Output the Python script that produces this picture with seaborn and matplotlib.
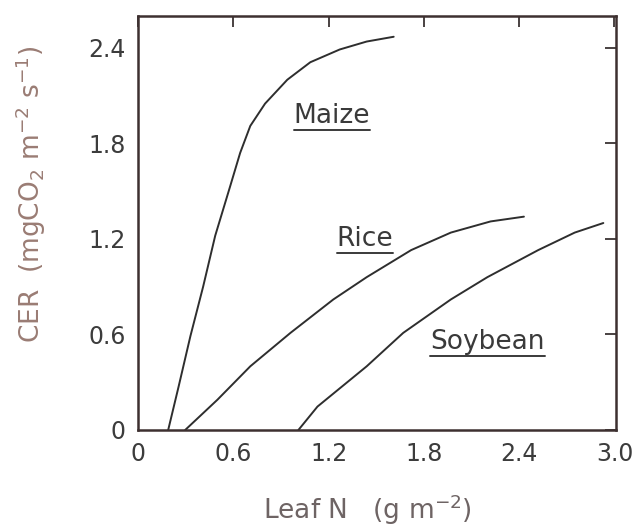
import numpy as np
import pandas as pd
import matplotlib
matplotlib.use("Agg")
import matplotlib.pyplot as plt
import seaborn as sns

# ---- data ----
maize_n = [0.19, 0.255, 0.33, 0.41, 0.486, 0.58, 0.643, 0.707, 0.80, 0.94, 1.085, 1.27, 1.44, 1.61]
maize_cer = [0.00, 0.27, 0.59, 0.90, 1.22, 1.53, 1.74, 1.91, 2.05, 2.20, 2.31, 2.39, 2.44, 2.47]

rice_n = [0.297, 0.50, 0.707, 0.96, 1.23, 1.44, 1.72, 1.97, 2.22, 2.43]
rice_cer = [0.00, 0.19, 0.40, 0.61, 0.82, 0.96, 1.13, 1.24, 1.31, 1.34]

soy_n = [1.01, 1.13, 1.44, 1.67, 1.97, 2.20, 2.52, 2.75, 2.93]
soy_cer = [0.00, 0.147, 0.40, 0.61, 0.82, 0.96, 1.13, 1.24, 1.30]

crops = ["Maize", "Rice", "Soybean"]
label_x = [1.22, 1.43, 2.20]
label_y = [1.97, 1.20, 0.55]

xticks = [0, 0.6, 1.2, 1.8, 2.4, 3.0]
xtick_labels = ["0", "0.6", "1.2", "1.8", "2.4", "3.0"]
yticks = [0, 0.6, 1.2, 1.8, 2.4]
ytick_labels = ["0", "0.6", "1.2", "1.8", "2.4"]

df = pd.concat([
    pd.DataFrame({"N": maize_n, "CER": maize_cer, "crop": "Maize"}),
    pd.DataFrame({"N": rice_n, "CER": rice_cer, "crop": "Rice"}),
    pd.DataFrame({"N": soy_n, "CER": soy_cer, "crop": "Soybean"}),
])

sns.set_theme(style="white")
plt.rcParams["font.family"] = ["DejaVu Sans"]
plt.rcParams["mathtext.fontset"] = "dejavusans"

fig = plt.figure(figsize=(6.36, 5.30), dpi=100)
ax = fig.add_axes([0.217, 0.1887, 0.7516, 0.781])

sns.lineplot(data=df, x="N", y="CER", hue="crop", units="crop", estimator=None,
             sort=False, palette={c: "#2e2e2e" for c in crops}, linewidth=1.4,
             legend=False, ax=ax)

ax.set_xlim(0, 3.01)
ax.set_ylim(0, 2.6)
ax.set_xticks(xticks)
ax.set_xticklabels(xtick_labels)
ax.set_yticks(yticks)
ax.set_yticklabels(ytick_labels)

tick_color = "#3c3c3c"
ax.tick_params(axis="both", which="major", direction="in", length=8, width=1.3,
               colors="#3a3333", labelcolor=tick_color, labelsize=17, pad=9,
               top=True, right=True)
for s in ax.spines.values():
    s.set_color("#3d3030")
    s.set_linewidth(1.8)

ax.set_xlabel("Leaf N   (g m$^{-2}$)", fontsize=19, color="#6e6464")
ax.xaxis.set_label_coords(0.48, -0.15)
ax.set_ylabel("CER  (mgCO$_2$ m$^{-2}$ s$^{-1}$)", fontsize=19, color="#9a7c74")
ax.yaxis.set_label_coords(-0.188, 0.57)

texts = []
for name, lx, ly in zip(crops, label_x, label_y):
    t = ax.text(lx, ly, name, fontsize=19, color="#3a3a3a", ha="center", va="center")
    texts.append(t)

fig.canvas.draw()
renderer = fig.canvas.get_renderer()
inv = ax.transData.inverted()
for t in texts:
    bb = t.get_window_extent(renderer=renderer)
    (x0, y0) = inv.transform((bb.x0, bb.y0 - 1))
    (x1, _) = inv.transform((bb.x1, bb.y0 - 1))
    ax.plot([x0, x1], [y0, y0], color="#3a3a3a", linewidth=1.4)

fig.savefig("out.png", dpi=100)
